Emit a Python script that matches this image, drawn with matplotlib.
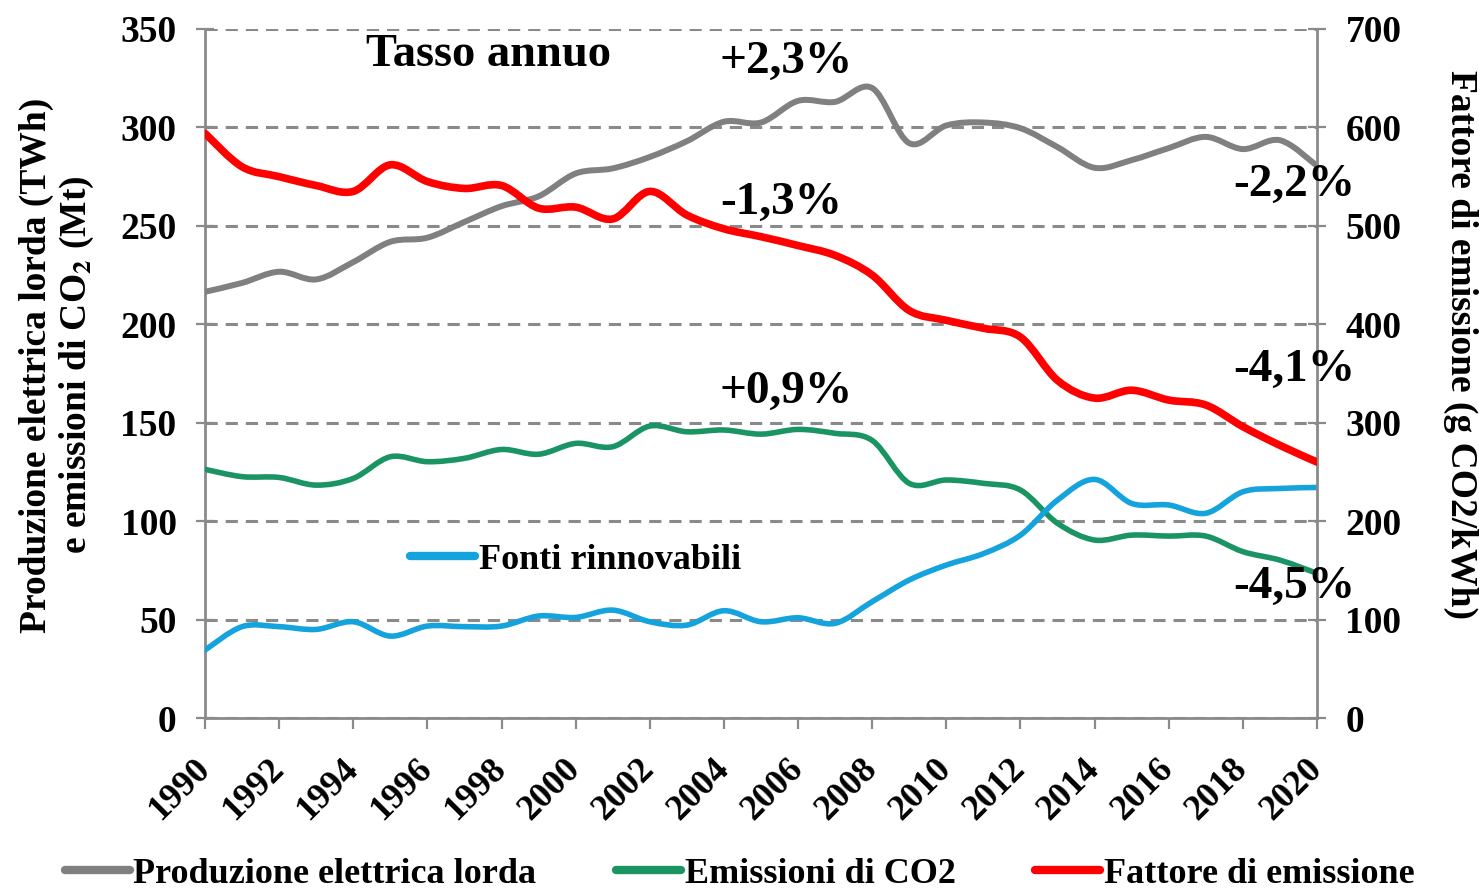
import numpy as np
import matplotlib
matplotlib.use("Agg")
import matplotlib.pyplot as plt
from matplotlib.path import Path
from matplotlib.patches import PathPatch
from matplotlib.lines import Line2D


# --------------------------------------------------
# DATA
# --------------------------------------------------
years = list(range(1990, 2021))

# Produzione elettrica lorda (TWh) - left axis
produzione = [216.5, 221.0, 226.7, 222.8, 231.6, 241.9, 244.0, 252.0, 260.0, 265.0,
              276.6, 279.2, 285.0, 293.0, 302.9, 302.5, 313.5, 313.0, 320.0, 292.0,
              301.0, 302.5, 299.6, 290.0, 279.5, 283.4, 289.5, 295.2, 289.0, 293.5,
              280.5]

# Emissioni di CO2 (Mt) - left axis
emissioni = [126.3, 122.6, 122.2, 118.3, 121.7, 132.7, 130.2, 131.9, 136.4, 134.0,
             139.5, 137.8, 148.3, 145.4, 146.3, 144.2, 146.6, 144.6, 141.0, 119.2,
             120.9, 119.2, 115.8, 98.9, 90.4, 92.9, 92.4, 92.4, 84.5, 80.2,
             73.5]

# Fonti rinnovabili (TWh) - left axis
rinnovabili = [34.5, 46.4, 46.4, 45.0, 48.9, 41.6, 46.7, 46.4, 46.7, 51.8,
               51.1, 54.8, 48.9, 47.2, 54.5, 48.9, 50.9, 48.1, 59.1, 70.1,
               77.7, 83.5, 92.9, 110.7, 121.2, 109.0, 108.2, 104.0, 114.9, 116.6,
               117.1]

# Fattore di emissione (g CO2/kWh) - right axis
fattore = [594, 560, 550, 541, 535, 562, 545, 538, 541, 518,
           519, 507, 535, 511, 497, 489, 480, 470, 450, 414,
           404, 396, 387, 343, 325, 333, 323, 318, 296, 277,
           260]

year_ticks = list(range(1990, 2021, 2))
left_ticks = list(range(0, 351, 50))
right_ticks = list(range(0, 701, 100))

rates = ["+2,3%", "-1,3%", "+0,9%", "-2,2%", "-4,1%", "-4,5%"]

GRAY = "#808080"
AXIS_GRAY = "#8a8a8a"
GREEN = "#1a9463"
RED = "#ff0000"
BLUE = "#14a3dd"

plt.rcParams["font.family"] = ["Liberation Serif", "DejaVu Serif"]
plt.rcParams["font.weight"] = "bold"
plt.rcParams["mathtext.fontset"] = "stix"


def smooth_path(x, y):
    # smoothed line like a spreadsheet chart: cubic bezier segments through the points
    n = len(x)
    verts = [(x[0], y[0])]
    codes = [Path.MOVETO]
    for i in range(n - 1):
        xa, ya = (x[i - 1], y[i - 1]) if i > 0 else (x[i], y[i])
        xb, yb = (x[i + 2], y[i + 2]) if i + 2 < n else (x[i + 1], y[i + 1])
        c1 = (x[i] + (x[i + 1] - xa) / 6.0, y[i] + (y[i + 1] - ya) / 6.0)
        c2 = (x[i + 1] - (xb - x[i]) / 6.0, y[i + 1] - (yb - y[i]) / 6.0)
        verts += [c1, c2, (x[i + 1], y[i + 1])]
        codes += [Path.CURVE4] * 3
    return Path(verts, codes)


def draw_series(ax, values, color, lw):
    patch = PathPatch(smooth_path(years, values), fill=False, edgecolor=color,
                      linewidth=lw, capstyle="round", joinstyle="round", zorder=3)
    ax.add_patch(patch)


def main():
    fig = plt.figure(figsize=(14.79, 8.90), dpi=100)
    ax = fig.add_axes([205 / 1479, 1 - 718 / 890, 1112 / 1479, 689 / 890])
    ax2 = ax.twinx()

    ax.set_xlim(1990, 2020)
    ax.set_ylim(0, 350)
    ax2.set_ylim(0, 700)

    # --------------------------------------------------
    # GRID / SPINES / TICKS
    # --------------------------------------------------
    ax.yaxis.grid(True, color=AXIS_GRAY, linestyle=(0, (4, 2.6)), linewidth=2.2, zorder=0)
    ax.set_axisbelow(True)

    for a in (ax, ax2):
        a.spines["top"].set_visible(False)
        for s in ("left", "right", "bottom"):
            a.spines[s].set_color(AXIS_GRAY)
            a.spines[s].set_linewidth(2.0)
    ax.spines["right"].set_visible(False)
    ax2.spines["left"].set_visible(False)
    ax2.spines["bottom"].set_visible(False)

    ax.set_xticks(year_ticks)
    ax.set_xticklabels([str(y) for y in year_ticks], rotation=45, ha="right",
                       va="center", rotation_mode="anchor")
    ax.set_yticks(left_ticks)
    ax2.set_yticks(right_ticks)

    ax.tick_params(axis="x", direction="out", length=8, width=1.6, color=AXIS_GRAY,
                   labelsize=26, pad=25)
    ax.tick_params(axis="y", direction="inout", length=13, width=1.6, color=AXIS_GRAY,
                   labelsize=27, pad=14)
    ax2.tick_params(axis="y", direction="inout", length=13, width=1.6, color=AXIS_GRAY,
                    labelsize=27, pad=14)

    # --------------------------------------------------
    # SERIES
    # --------------------------------------------------
    draw_series(ax, produzione, GRAY, 4.3)
    draw_series(ax, emissioni, GREEN, 4.0)
    draw_series(ax, rinnovabili, BLUE, 4.0)
    draw_series(ax2, fattore, RED, 5.5)

    # --------------------------------------------------
    # TEXT
    # --------------------------------------------------
    ax.text(0.2545, 0.962, "Tasso annuo", transform=ax.transAxes, fontsize=33.5,
            ha="center", va="center")
    rate_pos = [(0.463, 0.952), (0.463, 0.7475), (0.463, 0.473),
                (0.9245, 0.7736), (0.9245, 0.505), (0.9245, 0.190)]
    for txt, (px, py) in zip(rates, rate_pos):
        ax2.text(px, py, txt, transform=ax.transAxes, fontsize=34,
                 ha="left", va="center", zorder=5)

    fig.text(36 / 1479, 1 - 365 / 890, "Produzione elettrica lorda (TWh)",
             rotation=90, ha="center", va="center", fontsize=27)
    fig.text(77 / 1479, 1 - 365 / 890, r"e emissioni di CO$_{\mathbf{2}}$ (Mt)",
             rotation=90, ha="center", va="center", fontsize=27)
    fig.text(1461 / 1479, 1 - 345 / 890, "Fattore di emissione (g CO2/kWh)",
             rotation=-90, ha="center", va="center", fontsize=27)

    # --------------------------------------------------
    # LEGENDS
    # --------------------------------------------------
    h_ren = [Line2D([], [], color=BLUE, lw=6, solid_capstyle="round")]
    ax.legend(h_ren, ["Fonti rinnovabili"], loc="center left",
              bbox_to_anchor=((410 - 205) / 1112, (718 - 560) / 689),
              frameon=False, fontsize=26, handlelength=1.8, handletextpad=0.1,
              borderpad=0, borderaxespad=0)

    handles = [Line2D([], [], color=GRAY, lw=6, solid_capstyle="round"),
               Line2D([], [], color=GREEN, lw=6, solid_capstyle="round"),
               Line2D([], [], color=RED, lw=6, solid_capstyle="round")]
    labels = ["Produzione elettrica lorda", "Emissioni di CO2", "Fattore di emissione"]
    fig.legend(handles, labels, loc="center", bbox_to_anchor=(0.5, 1 - 874 / 890),
               ncol=3, frameon=False, fontsize=26, handlelength=1.8,
               handletextpad=0.1, columnspacing=2.2, borderpad=0)

    fig.savefig("out.png", dpi=100)


if __name__ == "__main__":
    main()
